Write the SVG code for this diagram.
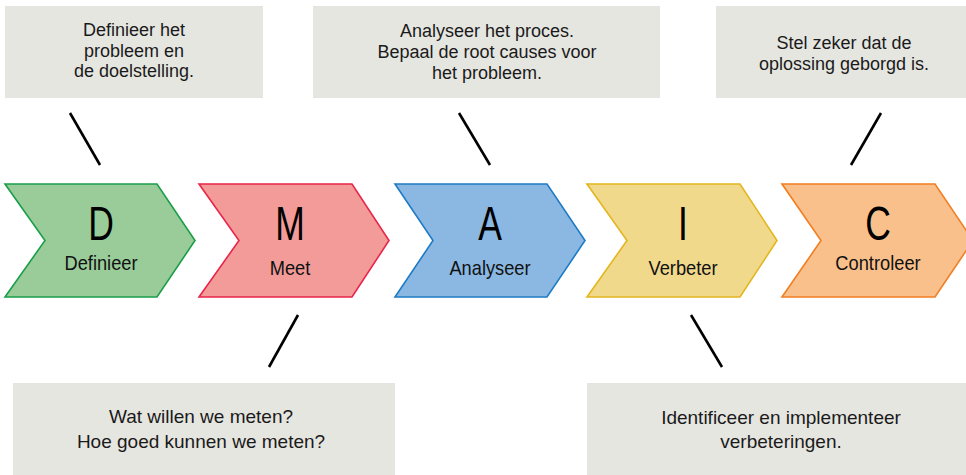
<svg xmlns="http://www.w3.org/2000/svg" width="966" height="475" viewBox="0 0 966 475">
<style>
.box{fill:#e6e6e1}
.t{font-family:"Liberation Sans","Arial",sans-serif;font-size:18px;fill:#1a1a1a;text-anchor:middle}
.tb{font-size:19px}
.big{font-family:"Liberation Sans","Arial",sans-serif;font-size:48px;fill:#000;text-anchor:middle}
.lab{font-family:"Liberation Sans","Arial",sans-serif;font-size:21px;fill:#111;text-anchor:middle}
.chev{stroke-width:1.6;stroke-linejoin:miter}
.conn line{stroke:#000;stroke-width:2.6;stroke-linecap:butt}
</style>
<rect width="966" height="475" fill="#fff"/>
<g id="note-define">
<rect class="box" x="5" y="6" width="258" height="92"/>
<text class="t" x="134" y="36">Definieer het</text>
<text class="t" x="134" y="57">probleem en</text>
<text class="t" x="134" y="77">de doelstelling.</text>
</g>
<g id="note-analyse">
<rect class="box" x="313" y="6" width="347" height="92"/>
<text class="t" x="487" y="37">Analyseer het proces.</text>
<text class="t" x="487" y="58">Bepaal de root causes voor</text>
<text class="t" x="487" y="79">het probleem.</text>
</g>
<g id="note-control">
<rect class="box" x="716" y="6" width="250" height="92"/>
<text class="t" x="844" y="49">Stel zeker dat de</text>
<text class="t" x="844" y="70">oplossing geborgd is.</text>
</g>
<g id="note-measure">
<rect class="box" x="13" y="383" width="382" height="92"/>
<text class="t tb" x="201" y="423">Wat willen we meten?</text>
<text class="t tb" x="201" y="448">Hoe goed kunnen we meten?</text>
</g>
<g id="note-improve">
<rect class="box" x="587" y="383" width="379" height="92"/>
<text class="t tb" x="781" y="424">Identificeer en implementeer</text>
<text class="t tb" x="781" y="448">verbeteringen.</text>
</g>
<g id="step-D">
<polygon class="chev" points="5,184 157,184 195,240.5 157,297 5,297 45,240.5" fill="#99cc99" stroke="#1a9e4a"/>
<text class="big" transform="translate(101 240) scale(0.74 1)">D</text>
<text class="lab" transform="translate(101 270) scale(0.87 1)">Definieer</text>
</g>
<g id="step-M">
<polygon class="chev" points="199,184 352,184 389,240.5 352,297 199,297 239,240.5" fill="#f29b98" stroke="#e8254a"/>
<text class="big" transform="translate(290 240) scale(0.74 1)">M</text>
<text class="lab" transform="translate(290 275) scale(0.87 1)">Meet</text>
</g>
<g id="step-A">
<polygon class="chev" points="395,184 547,184 585,240.5 547,297 395,297 433,240.5" fill="#8ab8e3" stroke="#1e7bc4"/>
<text class="big" transform="translate(490 240) scale(0.74 1)">A</text>
<text class="lab" transform="translate(490 275) scale(0.87 1)">Analyseer</text>
</g>
<g id="step-I">
<polygon class="chev" points="587,184 740,184 777,240.5 740,297 587,297 627,240.5" fill="#f1d98c" stroke="#e3b51e"/>
<text class="big" transform="translate(683 240) scale(0.74 1)">I</text>
<text class="lab" transform="translate(683 275) scale(0.87 1)">Verbeter</text>
</g>
<g id="step-C">
<polygon class="chev" points="782,184 935,184 973,240.5 935,297 782,297 821,240.5" fill="#f9c08c" stroke="#f07e22"/>
<text class="big" transform="translate(878 240) scale(0.74 1)">C</text>
<text class="lab" transform="translate(878 270) scale(0.87 1)">Controleer</text>
</g>
<g id="connectors" class="conn">
<line x1="70" y1="113" x2="100" y2="165"/>
<line x1="459" y1="113" x2="490" y2="165"/>
<line x1="881" y1="113" x2="851" y2="165"/>
<line x1="298" y1="315" x2="269" y2="367"/>
<line x1="691" y1="315" x2="722" y2="367"/>
</g>
</svg>
